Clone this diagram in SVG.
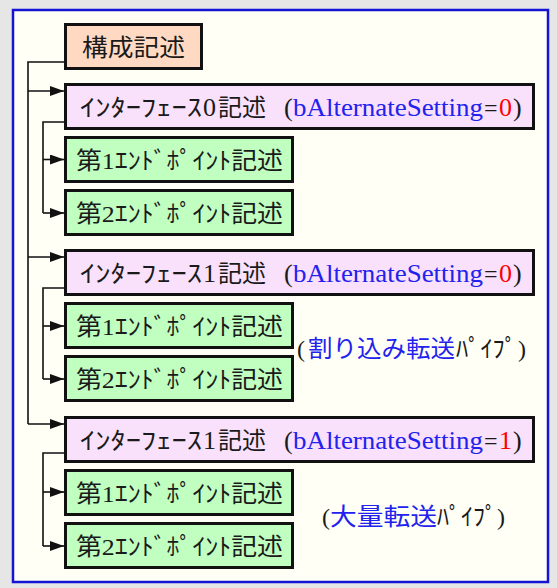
<svg xmlns="http://www.w3.org/2000/svg" width="557" height="588" viewBox="0 0 557 588">
<defs>
<style>
.t{font-family:"Liberation Serif","Noto Sans CJK JP",serif;font-size:24px;fill:#1a1a1a}
.l{font-size:26px}
.b{fill:#2222ee}
.r{fill:#ff0000}
.box{stroke:#111;stroke-width:3}
.kb{fill:#ffd9c2}
.ib{fill:#f9e0fb}
.eb{fill:#c0ffc0}
.c{fill:none;stroke:#111;stroke-width:1.6}
</style>
<marker id="ah" markerUnits="userSpaceOnUse" markerWidth="14" markerHeight="10" refX="14" refY="5" orient="auto">
<path d="M0,0 L14,5 L0,10 Z" fill="#111"/>
</marker>
</defs>
<rect width="557" height="588" fill="#e6e6e6"/>
<rect x="13" y="10" width="535" height="572" fill="#fffff6" stroke="#1414d2" stroke-width="2.5"/>

<g id="connectors">
<path class="c" d="M64,62 H28 V424"/>
<path class="c" d="M28,91 H64" marker-end="url(#ah)"/>
<path class="c" d="M28,257 H64" marker-end="url(#ah)"/>
<path class="c" d="M28,424 H64" marker-end="url(#ah)"/>
<path class="c" d="M64,122 H43 V213"/>
<path class="c" d="M43,159.5 H64" marker-end="url(#ah)"/>
<path class="c" d="M43,213 H64" marker-end="url(#ah)"/>
<path class="c" d="M64,288 H43 V379"/>
<path class="c" d="M43,326 H64" marker-end="url(#ah)"/>
<path class="c" d="M43,379 H64" marker-end="url(#ah)"/>
<path class="c" d="M64,453 H43 V546"/>
<path class="c" d="M43,492 H64" marker-end="url(#ah)"/>
<path class="c" d="M43,546 H64" marker-end="url(#ah)"/>
</g>

<g id="config">
<rect class="box kb" x="65.5" y="24.5" width="136" height="44"/>
<text class="t" x="82" y="56" font-size="25" textLength="103" lengthAdjust="spacingAndGlyphs">構成記述</text>
</g>

<g id="if0">
<rect class="box ib" x="65.5" y="84.5" width="468" height="44"/>
<text class="t" y="115.5"><tspan x="80" textLength="122" lengthAdjust="spacingAndGlyphs">ｲﾝﾀｰﾌｪｰｽ</tspan><tspan class="l" x="203">0</tspan><tspan x="218">記述</tspan><tspan class="l" x="284">(</tspan><tspan class="b l" x="293" textLength="190" lengthAdjust="spacingAndGlyphs">bAlternateSetting</tspan><tspan x="484">=</tspan><tspan class="r l" x="499">0</tspan><tspan class="l" x="513">)</tspan></text>
</g>
<g id="if0-ep1">
<rect class="box eb" x="65.5" y="137.5" width="227" height="44"/>
<text class="t" x="76" y="168.5" textLength="207" lengthAdjust="spacingAndGlyphs">第1ｴﾝﾄﾞﾎﾟｲﾝﾄ記述</text>
</g>
<g id="if0-ep2">
<rect class="box eb" x="65.5" y="190.5" width="227" height="44"/>
<text class="t" x="76" y="221.5" textLength="207" lengthAdjust="spacingAndGlyphs">第2ｴﾝﾄﾞﾎﾟｲﾝﾄ記述</text>
</g>

<g id="if1">
<rect class="box ib" x="65.5" y="250.5" width="468" height="44"/>
<text class="t" y="281.5"><tspan x="80" textLength="122" lengthAdjust="spacingAndGlyphs">ｲﾝﾀｰﾌｪｰｽ</tspan><tspan class="l" x="203">1</tspan><tspan x="218">記述</tspan><tspan class="l" x="284">(</tspan><tspan class="b l" x="293" textLength="190" lengthAdjust="spacingAndGlyphs">bAlternateSetting</tspan><tspan x="484">=</tspan><tspan class="r l" x="499">0</tspan><tspan class="l" x="513">)</tspan></text>
</g>
<g id="if1-ep1">
<rect class="box eb" x="65.5" y="303.5" width="227" height="44"/>
<text class="t" x="76" y="334.5" textLength="207" lengthAdjust="spacingAndGlyphs">第1ｴﾝﾄﾞﾎﾟｲﾝﾄ記述</text>
</g>
<g id="if1-ep2">
<rect class="box eb" x="65.5" y="356.5" width="227" height="44"/>
<text class="t" x="76" y="387.5" textLength="207" lengthAdjust="spacingAndGlyphs">第2ｴﾝﾄﾞﾎﾟｲﾝﾄ記述</text>
</g>
<g id="pipe-int">
<text class="t" y="357" font-size="25"><tspan x="297">(</tspan><tspan class="b" x="308" textLength="147" lengthAdjust="spacingAndGlyphs">割り込み転送</tspan><tspan x="456" textLength="61" lengthAdjust="spacingAndGlyphs">ﾊﾟｲﾌﾟ</tspan><tspan x="518">)</tspan></text>
</g>

<g id="if1b">
<rect class="box ib" x="65.5" y="417.5" width="468" height="44"/>
<text class="t" y="448.5"><tspan x="80" textLength="122" lengthAdjust="spacingAndGlyphs">ｲﾝﾀｰﾌｪｰｽ</tspan><tspan class="l" x="203">1</tspan><tspan x="218">記述</tspan><tspan class="l" x="284">(</tspan><tspan class="b l" x="293" textLength="190" lengthAdjust="spacingAndGlyphs">bAlternateSetting</tspan><tspan x="484">=</tspan><tspan class="r l" x="499">1</tspan><tspan class="l" x="513">)</tspan></text>
</g>
<g id="if1b-ep1">
<rect class="box eb" x="65.5" y="470.5" width="227" height="44"/>
<text class="t" x="76" y="501.5" textLength="207" lengthAdjust="spacingAndGlyphs">第1ｴﾝﾄﾞﾎﾟｲﾝﾄ記述</text>
</g>
<g id="if1b-ep2">
<rect class="box eb" x="65.5" y="523.5" width="227" height="44"/>
<text class="t" x="76" y="554.5" textLength="207" lengthAdjust="spacingAndGlyphs">第2ｴﾝﾄﾞﾎﾟｲﾝﾄ記述</text>
</g>
<g id="pipe-bulk">
<text class="t" y="525" font-size="25"><tspan x="322">(</tspan><tspan class="b" x="330" textLength="107" lengthAdjust="spacingAndGlyphs">大量転送</tspan><tspan x="437" textLength="60" lengthAdjust="spacingAndGlyphs">ﾊﾟｲﾌﾟ</tspan><tspan x="497">)</tspan></text>
</g>
</svg>
